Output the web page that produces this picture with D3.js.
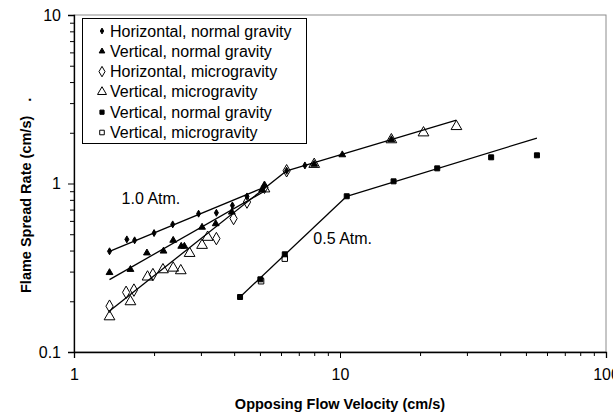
<!DOCTYPE html>
<html>
<head>
<meta charset="utf-8">
<script src="https://cdn.jsdelivr.net/npm/d3@7"></script>
<style>
  body { margin: 0; background: #fff; }
  svg { font-family: "Liberation Sans", Arial, sans-serif; }
</style>
</head>
<body>
<div id="chart"></div>
<script>
// Tick values and labels
const xTickValues = [1, 10, 100];
const xTickLabels = ['1', '10', '100'];
const yTickValues = [0.1, 1, 10];
const yTickLabels = ['0.1', '1', '10'];

// 1.0 atm data [velocity, spread rate]
const horizNormal1 = [[1.36,0.396],[1.58,0.466],[1.69,0.46],[2.0,0.508],[2.35,0.572],[2.94,0.662],
  [3.43,0.67],[3.94,0.741],[4.47,0.838],[5.2,0.97],[6.3,1.19],[7.38,1.28]];
const vertNormal1 = [[1.36,0.296],[1.63,0.309],[1.88,0.387],[2.17,0.397],[2.36,0.46],[2.53,0.424],
  [2.6,0.424],[3.03,0.55],[3.41,0.577],[3.92,0.676],[5.1,0.92],[8.0,1.3],[10.2,1.48],[15.6,1.82]];
const horizMicro1 = [[1.36,0.187],[1.57,0.226],[1.68,0.233],[1.98,0.288],[3.43,0.471],[3.98,0.62],
  [4.47,0.776],[5.2,0.95],[6.3,1.19]];
const vertMicro1 = [[1.36,0.162],[1.63,0.199],[1.89,0.279],[2.16,0.308],[2.36,0.315],[2.52,0.304],
  [2.72,0.385],[3.03,0.43],[3.18,0.48],[5.2,0.93],[8.0,1.3],[15.6,1.82],[20.6,2.0],[27.4,2.18]];

// 0.5 atm data
const vertNormal05 = [[4.21,0.212],[5.02,0.27],[6.2,0.38],[10.6,0.84],[15.9,1.03],[23.2,1.23],[37.0,1.43],[55.0,1.47]];
const vertMicro05 = [[5.05,0.263],[6.2,0.358]];

// Fitted line segments (end points)
const fitLines = [
  [[1.36,0.396],[5.2,0.95]],
  [[1.36,0.269],[5.2,0.9]],
  [[1.36,0.175],[6.3,1.19]],
  [[6.3,1.19],[27.4,2.38]],
  [[4.21,0.212],[10.6,0.84]],
  [[10.6,0.84],[55,1.86]]
];

const legendLabels = ['Horizontal, normal gravity', 'Vertical, normal gravity', 'Horizontal, microgravity',
  'Vertical, microgravity', 'Vertical, normal gravity', 'Vertical, microgravity'];

const annotations = [['1.0 Atm.', 1.51, 0.76], ['0.5 Atm.', 7.94, 0.44]];

const w = 613, h = 415;
const mLeft = 74, mRight = 606, mTop = 15, mBottom = 352;

const svg = d3.select('#chart').append('svg')
  .attr('width', w).attr('height', h);

const x = d3.scaleLog().domain([1, 100]).range([mLeft, mRight]);
const y = d3.scaleLog().domain([0.1, 10]).range([mBottom, mTop]);

// minor tick values 2..9 in each decade
const minor = (lo, hi) => {
  const out = [];
  for (let d = lo; d < hi; d *= 10) for (let k = 2; k <= 9; k++) out.push(+(d * k).toPrecision(3));
  return out;
};

// gray frame for top/right
svg.append('rect')
  .attr('x', mLeft).attr('y', mTop)
  .attr('width', mRight - mLeft).attr('height', mBottom - mTop)
  .attr('fill', 'none').attr('stroke', '#8c8c8c');

// axes
svg.append('g').attr('transform', `translate(0,${mBottom})`)
  .call(d3.axisBottom(x).tickValues(xTickValues).tickSize(6).tickPadding(11)
    .tickFormat((d, i) => xTickLabels[i]));
svg.append('g').attr('transform', `translate(0,${mBottom})`)
  .call(d3.axisBottom(x).tickValues(minor(1, 100)).tickSize(4).tickFormat(''))
  .select('.domain').remove();

svg.append('g').attr('transform', `translate(${mLeft},0)`)
  .call(d3.axisLeft(y).tickValues(yTickValues).tickSize(6).tickPadding(7)
    .tickFormat((d, i) => yTickLabels[i]));
svg.append('g').attr('transform', `translate(${mLeft},0)`)
  .call(d3.axisLeft(y).tickValues(minor(0.1, 10)).tickSize(4).tickFormat(''))
  .select('.domain').remove();

svg.selectAll('.tick text').attr('font-size', 16).attr('font-family', '"Liberation Sans", Arial, sans-serif').attr('fill', '#000');
svg.selectAll('.domain').attr('stroke-width', 1.3);

// axis titles
svg.append('text')
  .attr('x', x(10)).attr('y', 409)
  .attr('text-anchor', 'middle')
  .attr('font-size', 14.5).attr('font-weight', 'bold')
  .text('Opposing Flow Velocity (cm/s)');

const yt = svg.append('text')
  .attr('transform', 'translate(31,293) rotate(-90)')
  .attr('font-size', 14.5).attr('font-weight', 'bold');
yt.append('tspan').text('Flame Spread Rate (cm/s)');
yt.append('tspan').attr('dx', 14).text('.');

// fit lines
const line = d3.line().x(d => x(d[0])).y(d => y(d[1]));
svg.selectAll('path.fit').data(fitLines).enter().append('path')
  .attr('class', 'fit')
  .attr('d', line)
  .attr('fill', 'none').attr('stroke', '#000').attr('stroke-width', 1.3);

// marker styles
const styles = [
  { data: horizNormal1, type: d3.symbolDiamond, size: 14, fill: '#000' },
  { data: vertNormal1, type: d3.symbolTriangle, size: 20, fill: '#000' },
  { data: horizMicro1, type: d3.symbolDiamond, size: 45, fill: 'none' },
  { data: vertMicro1, type: d3.symbolTriangle, size: 50, fill: 'none' },
  { data: vertNormal05, type: d3.symbolSquare, size: 25, fill: '#000' },
  { data: vertMicro05, type: d3.symbolSquare, size: 30, fill: 'none' }
];

styles.forEach(s => {
  svg.append('g').selectAll('path').data(s.data).enter().append('path')
    .attr('transform', d => `translate(${x(d[0])},${y(d[1])})`)
    .attr('d', d3.symbol().type(s.type).size(s.size))
    .attr('fill', s.fill).attr('stroke', '#000').attr('stroke-width', 1);
});

// annotations
svg.selectAll('text.ann').data(annotations).enter().append('text')
  .attr('class', 'ann')
  .attr('x', d => x(d[1])).attr('y', d => y(d[2]))
  .attr('font-size', 16)
  .text(d => d[0]);

// legend
const lg = svg.append('g');
lg.append('rect')
  .attr('x', 82.5).attr('y', 18.5).attr('width', 224).attr('height', 125)
  .attr('fill', '#fff').attr('stroke', '#000');
legendLabels.forEach((lab, i) => {
  const yy = 31 + i * 20.3;
  lg.append('path')
    .attr('transform', `translate(102,${yy})`)
    .attr('d', d3.symbol().type(styles[i].type).size(styles[i].size * 0.7))
    .attr('fill', styles[i].fill).attr('stroke', '#000');
  lg.append('text')
    .attr('x', 110).attr('y', yy + 5.5)
    .attr('font-size', 16)
    .text(lab);
});
</script>
</body>
</html>
